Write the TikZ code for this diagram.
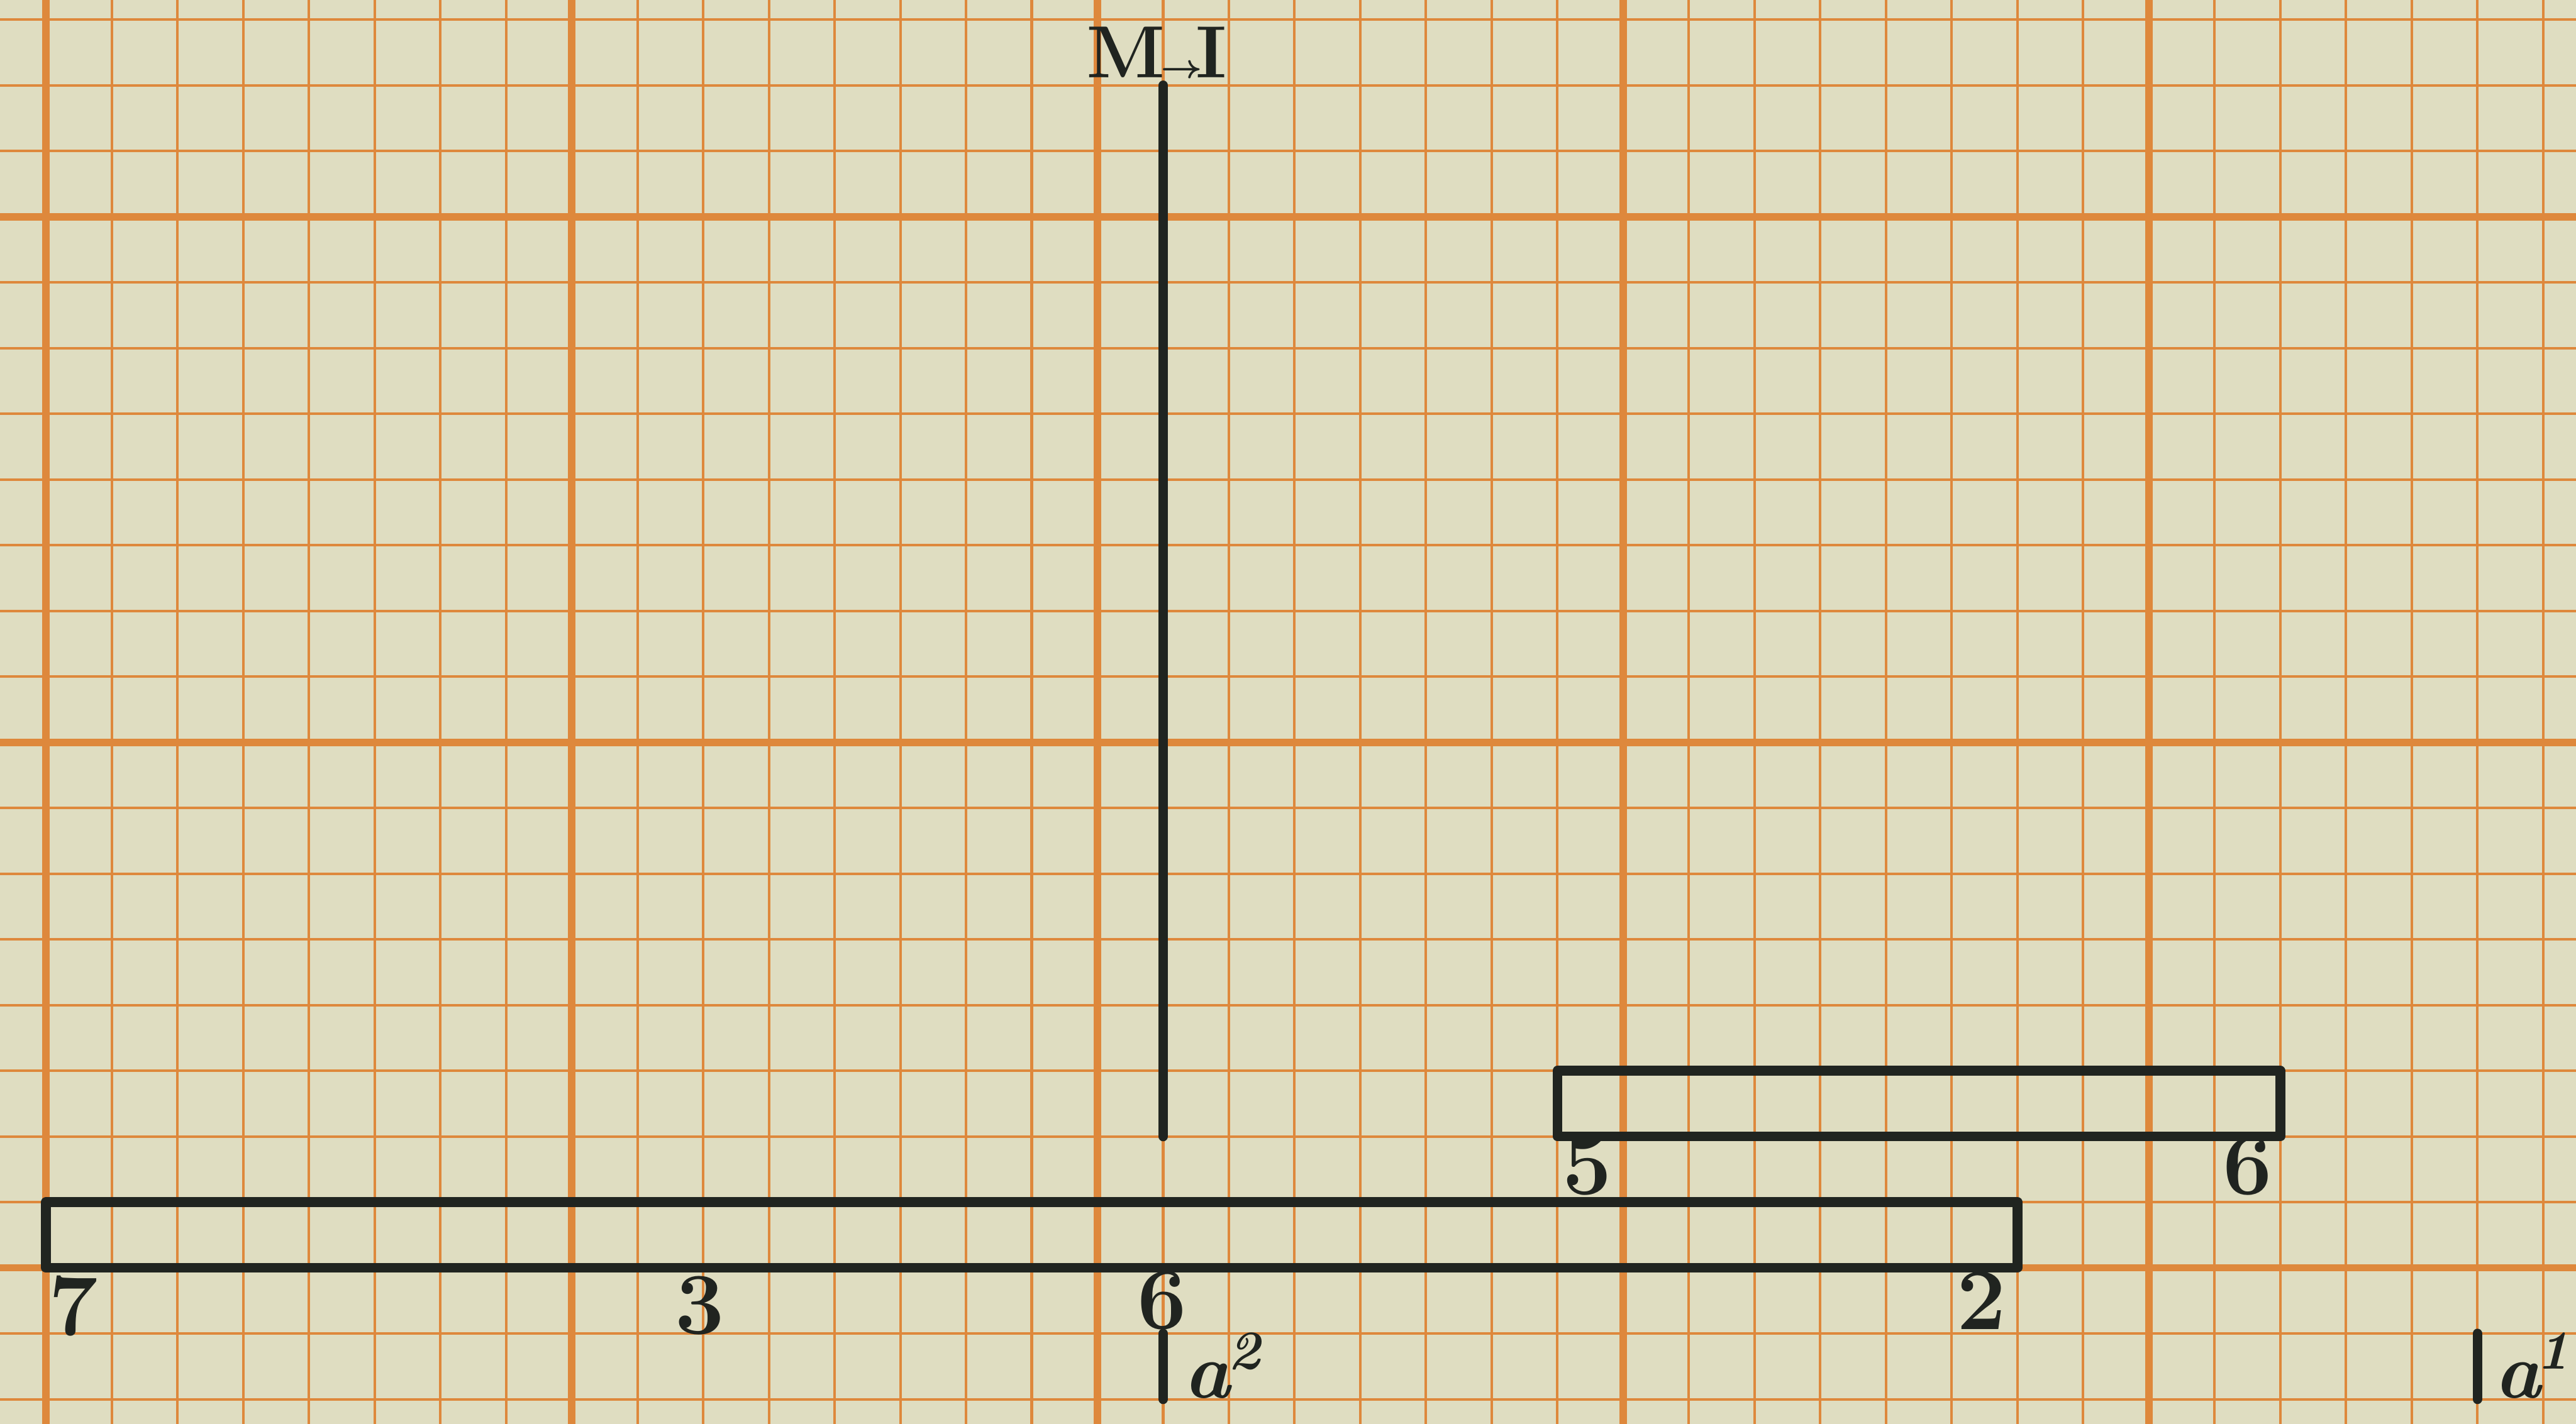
\documentclass[tikz,border=0pt]{standalone}
\usetikzlibrary{positioning}
\definecolor{paper}{RGB}{223,221,193}
\definecolor{gridorange}{RGB}{222,136,60}
\definecolor{ink}{RGB}{32,36,32}
\tikzset{
  minorgrid/.style={draw=gridorange, line width=0.55pt},
  majorgrid/.style={draw=gridorange, line width=1.6pt},
  bar/.style={draw=ink, line width=2.1pt, line join=round},
  stem/.style={draw=ink, line width=2.1pt, line cap=round},
  num/.style={font=\fontsize{19}{19}\selectfont\bfseries, text=ink, inner sep=0pt},
  toplbl/.style={font=\fontsize{16}{16}\selectfont\bfseries, text=ink, inner sep=0pt},
  axlbl/.style={font=\fontsize{17}{17}\selectfont\bfseries\itshape, text=ink,
                inner sep=0pt, anchor=base west}
}
\begin{document}
\begin{tikzpicture}[scale=0.5]
  \fill[paper] (-0.7,-2.375) rectangle (38.5,19.3);
  \useasboundingbox (-0.7,-2.375) rectangle (38.5,19.3);
  \begin{scope}
    \clip (-0.7,-2.375) rectangle (38.5,19.3);
    \draw[minorgrid, step=1] (-2,-3) grid (40,20);
    \draw[majorgrid, step=8] (-8,-8) grid (40,24);
  \end{scope}

  \coordinate (lowSW) at (0,0);   \coordinate (lowNE) at (30,1);
  \coordinate (upSW) at (23,2);   \coordinate (upNE) at (34,3);
  \coordinate (stemB) at (17,2);  \coordinate (stemT) at (17,18);
  \coordinate (tickAt) at (17,-1); \coordinate (tickAb) at (17,-2);
  \coordinate (tickBt) at (37,-1); \coordinate (tickBb) at (37,-2);

  \draw[bar] (lowSW) rectangle (lowNE);
  \draw[bar] (upSW) rectangle (upNE);
  \draw[stem] (stemB) -- (stemT);
  \draw[stem] (tickAt) -- (tickAb);
  \draw[stem] (tickBt) -- (tickBb);

  \node[toplbl] (mi) at (16.9,18.5) {M\kern-1pt{\scriptsize\boldmath$\rightarrow$}\kern-1.5ptI};
  \node[num] (n7) at (0.42,-0.58) {7};
  \node[num] (n3) at (9.95,-0.57) {3};
  \node[num] (n6low) at (16.98,-0.5) {6};
  \node[num] (n2) at (29.45,-0.5) {2};
  \node[num] (n5) at (23.45,1.55) {5};
  \node[num] (n6up) at (33.5,1.55) {6};
  \node[axlbl] (atwo) at (17.3,-1.98) {a\kern-0.5pt\textsuperscript{2}};
  \node[axlbl] (aone) at (37.25,-1.98) {a\kern-1pt\textsuperscript{1}};
\end{tikzpicture}
\end{document}
